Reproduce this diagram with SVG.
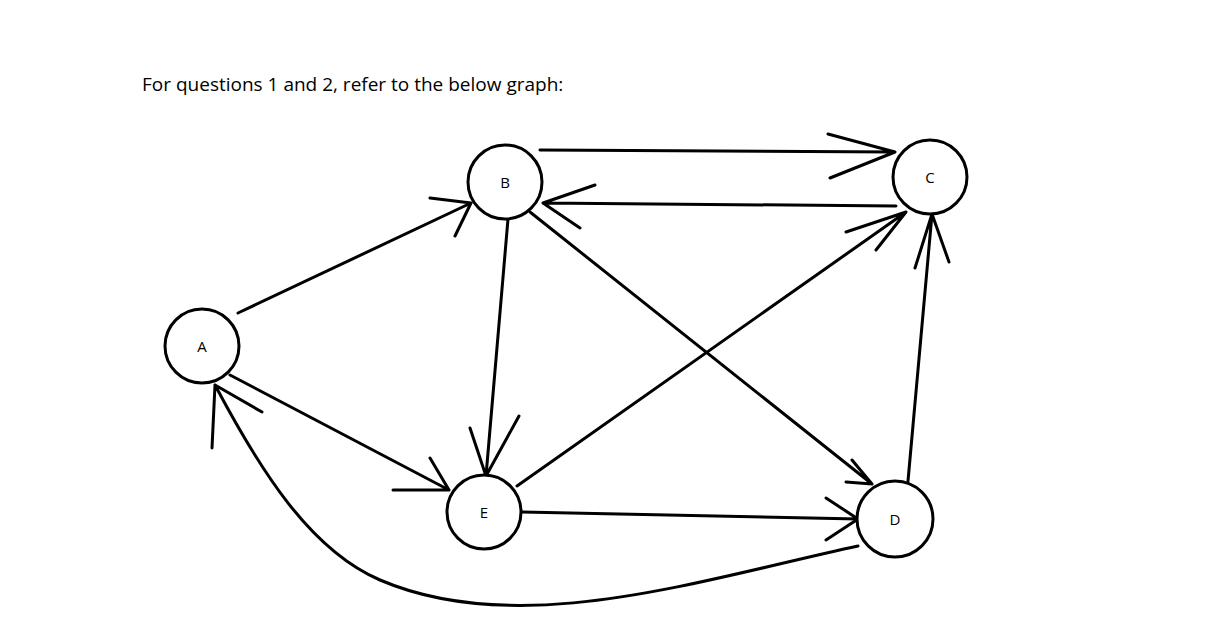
<svg xmlns="http://www.w3.org/2000/svg" width="1206" height="630" viewBox="0 0 1206 630">
<style>
.n{fill:#fff;stroke:#000;stroke-width:3}
.e{fill:none;stroke:#000;stroke-width:3;stroke-linecap:round;stroke-linejoin:round}
.t{font-family:"Open Sans","Liberation Sans",sans-serif;font-size:15px;text-anchor:middle;fill:#000}
</style>
<rect width="1206" height="630" fill="#fff"/>
<text x="142" y="91" font-family="'Open Sans','Liberation Sans',sans-serif" font-size="19" fill="#000">For questions 1 and 2, refer to the below graph:</text>
<g id="connectors">
<path class="e" d="M540 150 L895 152 M828 134 L895 152 L830 178"/>
<path class="e" d="M896 206 L543 203 M595 185 L543 203 L580 228"/>
<path class="e" d="M238 313 L471 203 M430 198 L471 203 L455 236"/>
<path class="e" d="M230 375 L449 490 M430 458 L449 490 L393 490"/>
<path class="e" d="M508 219 L486 476 M470 428 L486 476 L519 416"/>
<path class="e" d="M530 212 L872 484 M852 460 L872 484 L846 482"/>
<path class="e" d="M517 486 L906 212 M846 232 L906 212 L876 250"/>
<path class="e" d="M908 481 L932 214 M915 268 L932 214 L949 262"/>
<path class="e" d="M522 512 L858 519 M826 498 L858 519 L826 540"/>
<path class="e" d="M858 546 C700 580 520 640 380 580 C310 550 260 470 215 385 M212 448 L215 385 L262 412"/>
</g>
<g id="A"><circle class="n" cx="202" cy="346" r="37"/><text class="t" x="202" y="352">A</text></g>
<g id="B"><circle class="n" cx="505" cy="182" r="37"/><text class="t" x="505" y="188">B</text></g>
<g id="C"><circle class="n" cx="930" cy="177" r="37"/><text class="t" x="930" y="183">C</text></g>
<g id="D"><circle class="n" cx="895" cy="519" r="38"/><text class="t" x="895" y="525">D</text></g>
<g id="E"><circle class="n" cx="484" cy="512" r="37"/><text class="t" x="484" y="518">E</text></g>
</svg>
